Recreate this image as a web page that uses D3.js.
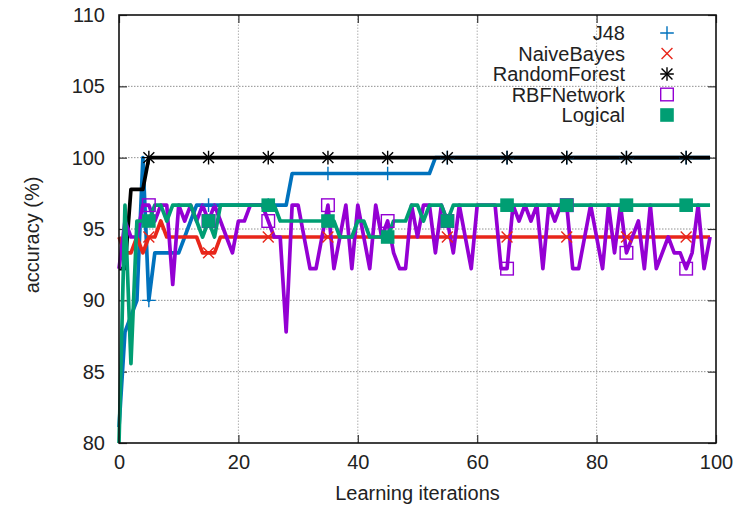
<!DOCTYPE html>
<html>
<head>
<meta charset="utf-8">
<script src="https://cdn.jsdelivr.net/npm/d3@7"></script>
<style>
  body { margin: 0; background: #fff; }
  svg { display: block; font-family: "Liberation Sans", Arial, sans-serif; }
  .tick text { font-size: 20px; fill: #222; }
</style>
</head>
<body>
<script>
// accuracy (%) per learning iteration (index = iteration)
const j48 = [
  81.11, 87.78, 88.89, 90.00, 100.0, 90.00, 93.33, 93.33, 93.33, 93.33,
  93.33, 94.44, 95.56, 96.67, 96.67, 96.67, 96.67, 96.67, 96.67, 96.67,
  96.67, 96.67, 96.67, 96.67, 96.67, 96.67, 96.67, 96.67, 96.67, 98.89,
  98.89, 98.89, 98.89, 98.89, 98.89, 98.89, 98.89, 98.89, 98.89, 98.89,
  98.89, 98.89, 98.89, 98.89, 98.89, 98.89, 98.89, 98.89, 98.89, 98.89,
  98.89, 98.89, 98.89, 100.0, 100.0, 100.0, 100.0, 100.0, 100.0, 100.0,
  100.0, 100.0, 100.0, 100.0, 100.0, 100.0, 100.0, 100.0, 100.0, 100.0,
  100.0, 100.0, 100.0, 100.0, 100.0, 100.0, 100.0, 100.0, 100.0, 100.0,
  100.0, 100.0, 100.0, 100.0, 100.0, 100.0, 100.0, 100.0, 100.0, 100.0,
  100.0, 100.0, 100.0, 100.0, 100.0, 100.0, 100.0, 100.0, 100.0, 100.0
]
const naiveBayes = [
  94.44, 93.33, 93.33, 94.44, 93.33, 94.44, 94.44, 95.56, 94.44, 94.44,
  94.44, 94.44, 94.44, 94.44, 93.33, 93.33, 93.33, 94.44, 94.44, 94.44,
  94.44, 94.44, 94.44, 94.44, 94.44, 94.44, 94.44, 94.44, 94.44, 94.44,
  94.44, 94.44, 94.44, 94.44, 94.44, 94.44, 94.44, 94.44, 94.44, 94.44,
  94.44, 94.44, 94.44, 94.44, 94.44, 94.44, 94.44, 94.44, 94.44, 94.44,
  94.44, 94.44, 94.44, 94.44, 94.44, 94.44, 94.44, 94.44, 94.44, 94.44,
  94.44, 94.44, 94.44, 94.44, 94.44, 94.44, 94.44, 94.44, 94.44, 94.44,
  94.44, 94.44, 94.44, 94.44, 94.44, 94.44, 94.44, 94.44, 94.44, 94.44,
  94.44, 94.44, 94.44, 94.44, 94.44, 94.44, 94.44, 94.44, 94.44, 94.44,
  94.44, 94.44, 94.44, 94.44, 94.44, 94.44, 94.44, 94.44, 94.44, 94.44
]
const randomForest = [
  92.22, 92.22, 97.78, 97.78, 97.78, 100.0, 100.0, 100.0, 100.0, 100.0,
  100.0, 100.0, 100.0, 100.0, 100.0, 100.0, 100.0, 100.0, 100.0, 100.0,
  100.0, 100.0, 100.0, 100.0, 100.0, 100.0, 100.0, 100.0, 100.0, 100.0,
  100.0, 100.0, 100.0, 100.0, 100.0, 100.0, 100.0, 100.0, 100.0, 100.0,
  100.0, 100.0, 100.0, 100.0, 100.0, 100.0, 100.0, 100.0, 100.0, 100.0,
  100.0, 100.0, 100.0, 100.0, 100.0, 100.0, 100.0, 100.0, 100.0, 100.0,
  100.0, 100.0, 100.0, 100.0, 100.0, 100.0, 100.0, 100.0, 100.0, 100.0,
  100.0, 100.0, 100.0, 100.0, 100.0, 100.0, 100.0, 100.0, 100.0, 100.0,
  100.0, 100.0, 100.0, 100.0, 100.0, 100.0, 100.0, 100.0, 100.0, 100.0,
  100.0, 100.0, 100.0, 100.0, 100.0, 100.0, 100.0, 100.0, 100.0, 100.0
]
const rbfNetwork = [
  92.22, 95.56, 94.44, 94.44, 96.67, 96.67, 95.56, 96.67, 96.67, 91.11,
  96.67, 95.56, 96.67, 95.56, 96.67, 95.56, 96.67, 95.56, 94.44, 93.33,
  95.56, 95.56, 96.67, 96.67, 96.67, 95.56, 94.44, 94.44, 87.78, 96.67,
  96.67, 94.44, 92.22, 92.22, 94.44, 96.67, 92.22, 94.44, 96.67, 92.22,
  96.67, 94.44, 92.22, 96.67, 94.44, 95.56, 93.33, 92.22, 92.22, 96.67,
  94.44, 96.67, 96.67, 93.33, 96.67, 95.56, 93.33, 96.67, 94.44, 92.22,
  96.67, 96.67, 96.67, 96.67, 92.22, 92.22, 96.67, 95.56, 96.67, 95.56,
  96.67, 92.22, 96.67, 95.56, 96.67, 96.67, 92.22, 92.22, 94.44, 96.67,
  94.44, 92.22, 96.67, 93.33, 96.67, 93.33, 94.44, 95.56, 92.22, 96.67,
  92.22, 93.33, 94.44, 93.33, 93.33, 92.22, 93.33, 96.67, 92.22, 94.44
]
const logical = [
  80.00, 96.67, 85.56, 95.56, 95.56, 95.56, 96.67, 96.67, 95.56, 96.67,
  96.67, 96.67, 96.67, 95.56, 94.44, 95.56, 94.44, 96.67, 96.67, 96.67,
  96.67, 96.67, 96.67, 96.67, 96.67, 96.67, 96.67, 95.56, 95.56, 95.56,
  95.56, 95.56, 95.56, 95.56, 95.56, 95.56, 95.56, 94.44, 94.44, 94.44,
  95.56, 95.56, 94.44, 94.44, 94.44, 94.44, 95.56, 95.56, 95.56, 96.67,
  96.67, 95.56, 96.67, 96.67, 96.67, 95.56, 96.67, 96.67, 96.67, 96.67,
  96.67, 96.67, 96.67, 96.67, 96.67, 96.67, 96.67, 96.67, 96.67, 96.67,
  96.67, 96.67, 96.67, 96.67, 96.67, 96.67, 96.67, 96.67, 96.67, 96.67,
  96.67, 96.67, 96.67, 96.67, 96.67, 96.67, 96.67, 96.67, 96.67, 96.67,
  96.67, 96.67, 96.67, 96.67, 96.67, 96.67, 96.67, 96.67, 96.67, 96.67
]

const seriesNames = ['J48', 'NaiveBayes', 'RandomForest', 'RBFNetwork', 'Logical']
const seriesValues = [j48, naiveBayes, randomForest, rbfNetwork, logical]
const seriesColors = ['#0072bd', '#e8261a', '#000000', '#9400d3', '#009e73']
const seriesMarks = ['plus', 'cross', 'star', 'square', 'filledSquare']
const xTicks = [0, 20, 40, 60, 80, 100]
const yTicks = [80, 85, 90, 95, 100, 105, 110]

let w = 747,
    h = 508
let margin = {left: 119, right: 31, top: 15, bottom: 65}

let svg = d3.select('body').append('svg')
    .attr('width', w)
    .attr('height', h)

let x = d3.scaleLinear().domain([0, 100]).range([margin.left, w - margin.right])
let y = d3.scaleLinear().domain([80, 110]).range([h - margin.bottom, margin.top])

// 网格
let grid = svg.append('g')
grid.selectAll('.vgrid')
    .data(xTicks.slice(1, -1))
    .enter().append('line')
    .attr('x1', d => x(d)).attr('x2', d => x(d))
    .attr('y1', y(80)).attr('y2', y(110))
    .attr('stroke', '#b0b0b0')
    .attr('stroke-dasharray', '1.5,1.5')
grid.selectAll('.hgrid')
    .data(yTicks.slice(1, -1))
    .enter().append('line')
    .attr('x1', x(0)).attr('x2', x(100))
    .attr('y1', d => y(d)).attr('y2', d => y(d))
    .attr('stroke', '#909090')
    .attr('stroke-dasharray', '1.5,1.5')

// 坐标轴 (ticks pointing inward, mirrored)
svg.append('g')
    .attr('transform', 'translate(0,' + y(80) + ')')
    .call(d3.axisBottom(x).tickValues(xTicks).tickSize(-8).tickPadding(12))
svg.append('g')
    .attr('transform', 'translate(0,' + y(110) + ')')
    .call(d3.axisTop(x).tickValues(xTicks).tickSize(-8).tickFormat(''))
svg.append('g')
    .attr('transform', 'translate(' + x(0) + ',0)')
    .call(d3.axisLeft(y).tickValues(yTicks).tickSize(-8).tickPadding(14))
svg.append('g')
    .attr('transform', 'translate(' + x(100) + ',0)')
    .call(d3.axisRight(y).tickValues(yTicks).tickSize(-8).tickFormat(''))
svg.selectAll('.domain').remove()
svg.selectAll('.tick line').attr('stroke', '#333').attr('stroke-width', 1.2)

// 折线
let line = d3.line()
    .x((d, i) => x(i))
    .y(d => y(d))

seriesValues.forEach((vals, k) => {
    svg.append('path')
        .datum(vals)
        .attr('fill', 'none')
        .attr('stroke', seriesColors[k])
        .attr('stroke-width', 3.7)
        .attr('stroke-linejoin', 'round')
        .attr('d', line)
})

// 标记
function drawMark(g, type, color, s) {
    if (type == 'plus' || type == 'star') {
        g.append('path').attr('d', 'M' + -s + ',0H' + s + 'M0,' + -s + 'V' + s)
            .attr('stroke', color).attr('stroke-width', 1.4)
    }
    if (type == 'cross' || type == 'star') {
        let c = s * 0.8
        g.append('path').attr('d', 'M' + -c + ',' + -c + 'L' + c + ',' + c + 'M' + -c + ',' + c + 'L' + c + ',' + -c)
            .attr('stroke', color).attr('stroke-width', 1.4)
    }
    if (type == 'square') {
        g.append('rect').attr('x', -s + 0.5).attr('y', -s + 0.5)
            .attr('width', 2 * s - 1).attr('height', 2 * s - 1)
            .attr('fill', 'none').attr('stroke', color).attr('stroke-width', 1.4)
    }
    if (type == 'filledSquare') {
        g.append('rect').attr('x', -s).attr('y', -s)
            .attr('width', 2 * s).attr('height', 2 * s)
            .attr('fill', color)
    }
}

seriesValues.forEach((vals, k) => {
    vals.forEach((v, i) => {
        if (i % 10 != 5) return
        let g = svg.append('g').attr('transform', 'translate(' + x(i) + ',' + y(v) + ')')
        drawMark(g, seriesMarks[k], seriesColors[k], 6.8)
    })
})

// 边框
svg.append('rect')
    .attr('x', x(0)).attr('y', y(110))
    .attr('width', x(100) - x(0)).attr('height', y(80) - y(110))
    .attr('fill', 'none')
    .attr('stroke', '#111')
    .attr('stroke-width', 1.6)

// 图例
let legend = svg.append('g')
    .selectAll('g')
    .data(seriesNames)
    .enter().append('g')
    .attr('transform', (d, i) => 'translate(0,' + (33 + i * 20.5) + ')')

legend.append('text')
    .attr('x', 625)
    .attr('y', 7)
    .attr('text-anchor', 'end')
    .attr('font-size', 20)
    .attr('fill', '#222')
    .text(d => d)

legend.each(function (d, i) {
    let g = d3.select(this).append('g').attr('transform', 'translate(667,0)')
    drawMark(g, seriesMarks[i], seriesColors[i], 6.8)
})

// 轴标题
svg.append('text')
    .attr('x', (x(0) + x(100)) / 2)
    .attr('y', 500)
    .attr('text-anchor', 'middle')
    .attr('font-size', 20)
    .attr('fill', '#222')
    .text('Learning iterations')

svg.append('text')
    .attr('transform', 'translate(39,' + (y(95) + 6) + ') rotate(-90)')
    .attr('text-anchor', 'middle')
    .attr('font-size', 20)
    .attr('fill', '#222')
    .text('accuracy (%)')
</script>
</body>
</html>
